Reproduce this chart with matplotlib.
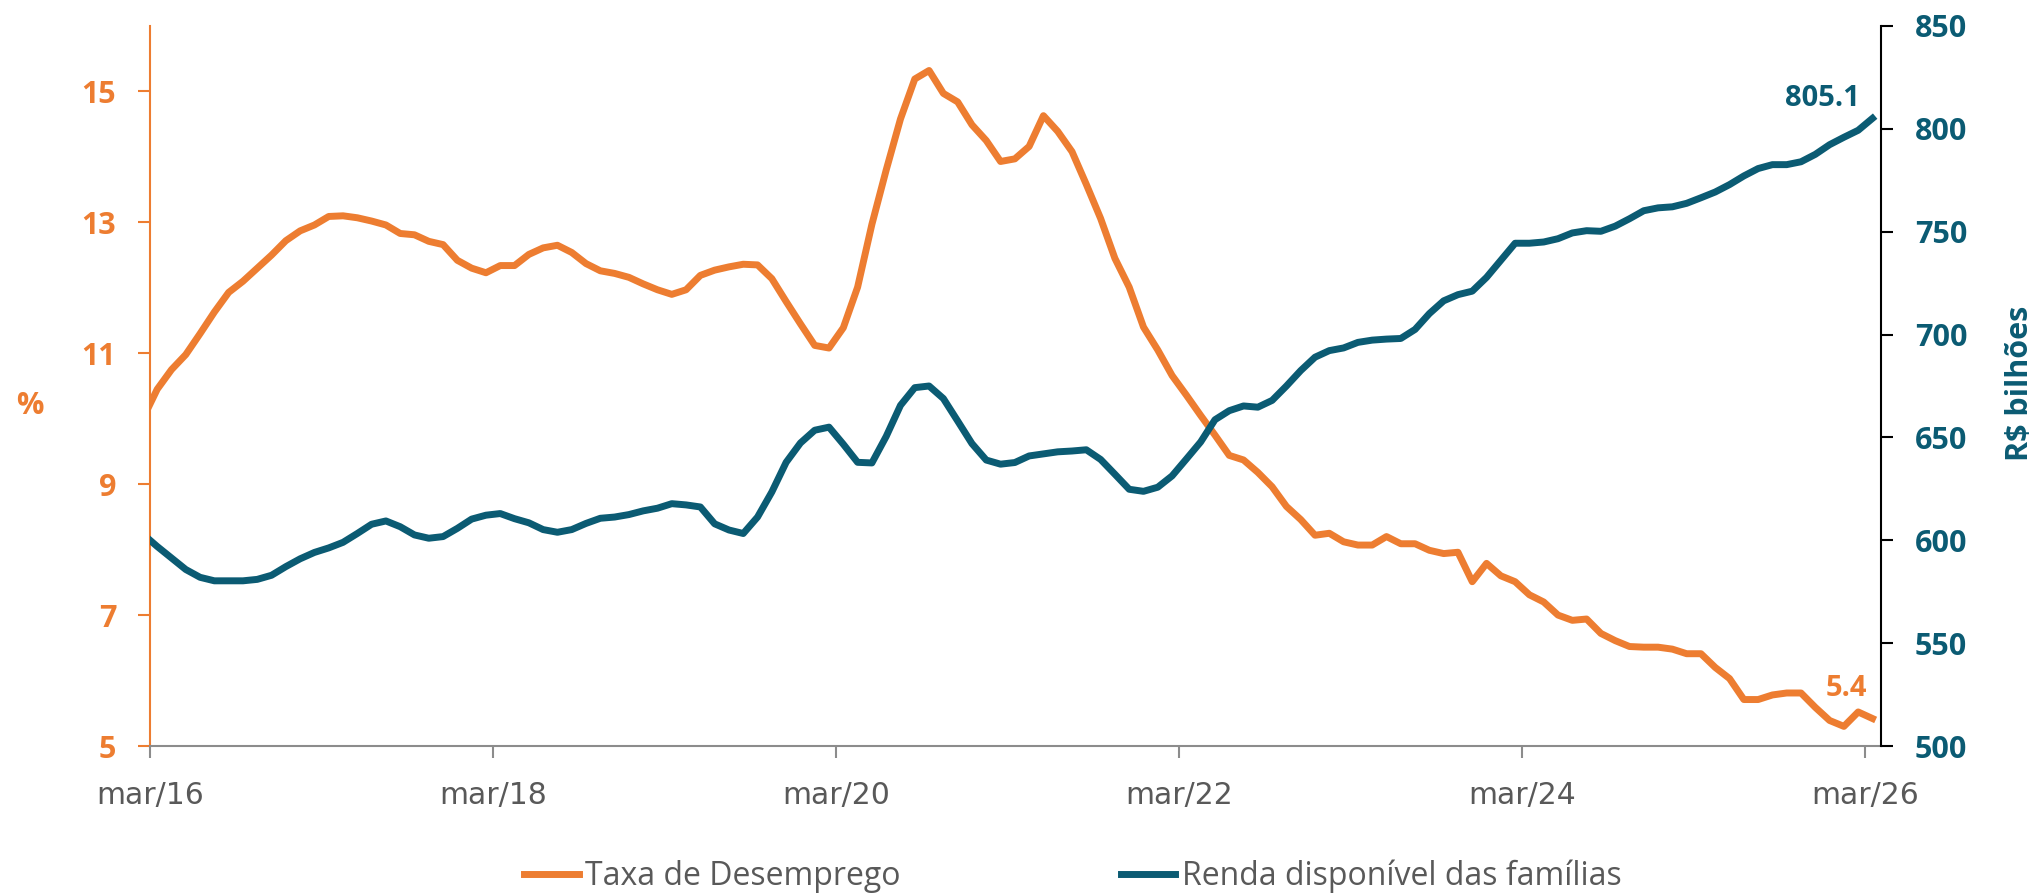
import numpy as np
import matplotlib.pyplot as plt

# monthly points, x = months since mar/16 (points sit mid-month)
meses = np.arange(122) - 0.5
tick_pos = [0, 24, 48, 72, 96, 120]
tick_labels = ['mar/16', 'mar/18', 'mar/20', 'mar/22', 'mar/24', 'mar/26']

desemprego = [
    10.00, 10.45, 10.75, 10.98, 11.30, 11.63, 11.93, 12.10, 12.30, 12.50,
    12.72, 12.87, 12.96, 13.09, 13.10, 13.07, 13.02, 12.96, 12.83, 12.81,
    12.71, 12.66, 12.42, 12.30, 12.23, 12.34, 12.34, 12.51, 12.61, 12.65,
    12.54, 12.37, 12.26, 12.22, 12.16, 12.06, 11.97, 11.90, 11.97, 12.19,
    12.27, 12.32, 12.36, 12.35, 12.14, 11.79, 11.45, 11.12, 11.08, 11.39,
    12.01, 12.97, 13.80, 14.58, 15.19, 15.32, 14.97, 14.84, 14.49, 14.25,
    13.93, 13.97, 14.16, 14.63, 14.39, 14.08, 13.58, 13.06, 12.45, 12.01,
    11.40, 11.05, 10.66, 10.36, 10.05, 9.75, 9.44, 9.37, 9.18, 8.96,
    8.66, 8.46, 8.22, 8.25, 8.12, 8.07, 8.07, 8.20, 8.09, 8.09,
    7.99, 7.94, 7.96, 7.51, 7.79, 7.60, 7.51, 7.31, 7.20, 7.00,
    6.92, 6.94, 6.72, 6.61, 6.52, 6.51, 6.51, 6.48, 6.41, 6.41,
    6.20, 6.03, 5.71, 5.71, 5.78, 5.81, 5.81, 5.59, 5.39, 5.30,
    5.52, 5.42,
]

renda = [
    603.0, 597.0, 591.4, 585.8, 582.0, 580.3, 580.3, 580.3, 581.0, 583.0,
    587.2, 591.0, 594.1, 596.3, 599.0, 603.3, 607.8, 609.4, 606.6, 602.6,
    601.0, 601.8, 605.8, 610.3, 612.2, 613.0, 610.5, 608.5, 605.2, 603.9,
    605.2, 608.2, 610.7, 611.3, 612.5, 614.3, 615.6, 617.8, 617.2, 616.2,
    608.0, 605.0, 603.3, 611.3, 623.5, 637.9, 647.3, 653.5, 655.0, 646.7,
    637.9, 637.6, 650.5, 665.6, 674.2, 675.0, 668.9, 658.0, 647.0, 639.0,
    637.0, 637.8, 641.0, 642.0, 643.0, 643.4, 644.0, 639.3, 632.1, 624.8,
    623.8, 625.8, 631.3, 639.5, 647.8, 658.6, 663.0, 665.3, 664.7, 668.0,
    675.0, 682.5, 689.0, 692.2, 693.5, 696.2, 697.3, 697.8, 698.1, 702.5,
    710.2, 716.4, 719.4, 721.1, 727.8, 736.1, 744.4, 744.4, 745.0, 746.6,
    749.4, 750.5, 750.2, 752.7, 756.3, 760.2, 761.6, 762.1, 763.8, 766.5,
    769.3, 772.9, 777.1, 780.7, 782.6, 782.6, 784.0, 787.6, 792.3, 795.9,
    799.3, 805.1,
]

laranja = '#ED7D31'
azul = '#0B5B73'
cinza = '#595959'

plt.rcParams['font.family'] = 'Open Sans'

fig = plt.figure(figsize=(20.36, 8.93), dpi=100)
ax = fig.add_axes([0.0737, 0.1646, 0.8502, 0.8063])
ax2 = ax.twinx()

l1, = ax.plot(meses, desemprego, color=laranja, lw=5, solid_joinstyle='round')
l2, = ax2.plot(meses, renda, color=azul, lw=5, solid_joinstyle='round')

ax.set_xlim(0, 121.1)
ax.set_ylim(5, 16)
ax2.set_ylim(500, 850)
ax.set_yticks([5, 7, 9, 11, 13, 15])
ax2.set_yticks(range(500, 851, 50))
ax.set_xticks(tick_pos, tick_labels)

for s in ['top', 'right']:
    ax.spines[s].set_visible(False)
for s in ['top', 'left', 'bottom']:
    ax2.spines[s].set_visible(False)
ax.spines['left'].set_color(laranja)
ax.spines['left'].set_linewidth(1.5)
ax.spines['bottom'].set_color('#8C8C8C')
ax.spines['bottom'].set_linewidth(1.5)
ax2.spines['right'].set_color('black')
ax2.spines['right'].set_linewidth(1.5)

ax.tick_params(axis='y', colors=laranja, length=8.4, width=1.5, pad=16, labelsize=22)
ax2.tick_params(axis='y', color='black', labelcolor=azul, length=8.4, width=1.5, pad=16, labelsize=22)
ax.tick_params(axis='x', color='#8C8C8C', labelcolor=cinza, length=8.6, width=1.5, pad=16.5)
for t in ax.get_yticklabels() + ax2.get_yticklabels():
    t.set_fontweight('bold')
for t in ax.get_xticklabels():
    t.set_fontfamily('DejaVu Sans')
    t.set_fontsize(21.5)

fig.text(30 / 2036, 1 - 406 / 893, '%', color=laranja, fontsize=22, fontweight='bold',
         ha='center', va='center')
fig.text(2020 / 2036, 1 - 383 / 893, 'R$ bilhões', color=azul, fontsize=22, fontweight='bold',
         rotation=90, ha='center', va='center')

ax2.annotate(f'{renda[-1]:.1f}', xy=(meses[-1], renda[-1]), xytext=(-9, 9),
             textcoords='offset points', ha='right', va='baseline',
             color=azul, fontsize=21, fontweight='bold')
ax.annotate(f'{desemprego[-1]:.1f}', xy=(meses[-1], desemprego[-1]), xytext=(-4, 16),
            textcoords='offset points', ha='right', va='baseline',
            color=laranja, fontsize=21, fontweight='bold')

leg = fig.legend([l1, l2], ['Taxa de Desemprego', 'Renda disponível das famílias'],
                 loc='center', bbox_to_anchor=(0.527, 0.019), ncol=2, frameon=False,
                 handlelength=1.7, handletextpad=0.2, columnspacing=6.9,
                 prop={'family': 'Open Sans', 'size': 23})
for t in leg.get_texts():
    t.set_color(cinza)

fig.savefig('out.png', dpi=100)
